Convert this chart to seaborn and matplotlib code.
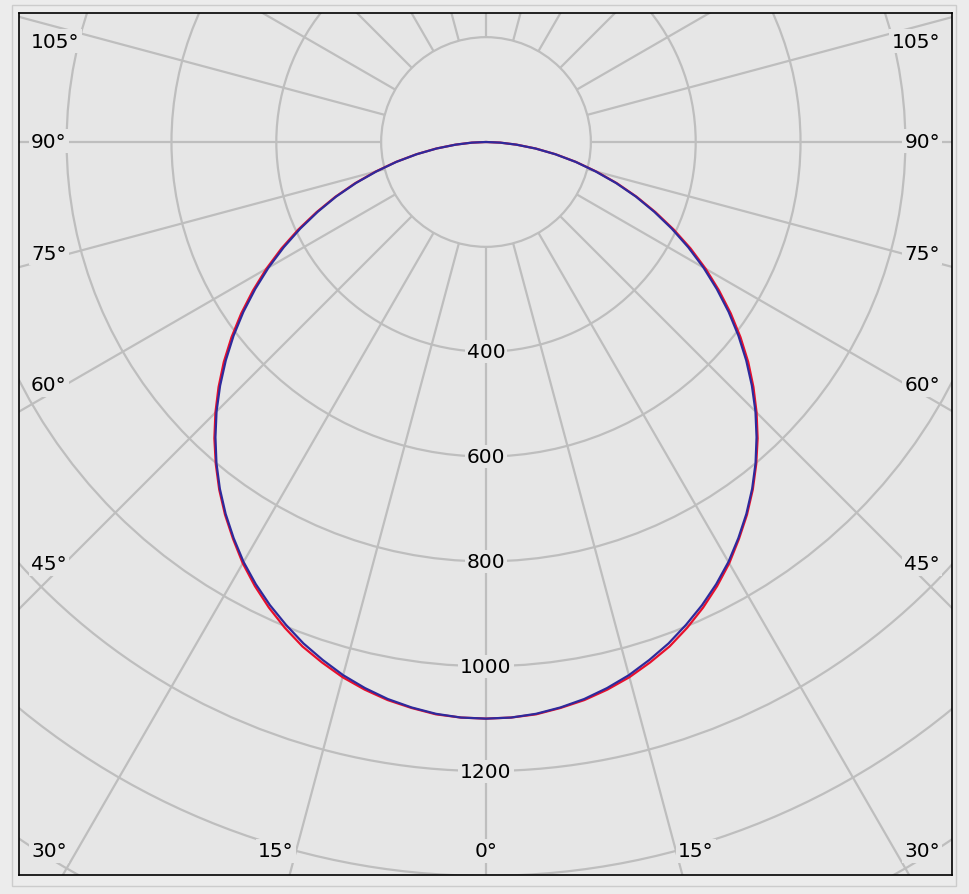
import numpy as np
import pandas as pd
import seaborn as sns
import matplotlib.pyplot as plt
from matplotlib.patches import Circle, Rectangle

# -------------------------------------------------------------------------
# Polar light distribution curve (cd), drawn on cartesian axes
# -------------------------------------------------------------------------

# gamma angles (deg from nadir) for one half of each C-plane
gamma = [0, 2.5, 5, 7.5, 10, 12.5, 15, 17.5, 20, 22.5, 25, 27.5, 30, 32.5, 35, 37.5,
         40, 42.5, 45, 47.5, 50, 52.5, 55, 57.5, 60, 62.5, 65, 67.5, 70, 72.5, 75,
         77.5, 80, 82.5, 85, 87.5, 90]
# C0/C180 plane (red) and C90/C270 plane (blue)
c0_cd = [1100, 1099, 1096, 1089, 1081, 1070, 1057, 1041, 1024, 1003, 980, 955, 928,
         898, 868, 836, 802, 767, 730, 692, 653, 612, 570, 527, 484, 440, 395, 350,
         306, 262, 218, 176, 135, 96, 59, 27, 0]
c90_cd = [1100, 1099, 1095, 1088, 1079, 1067, 1053, 1036, 1018, 997, 975, 951, 925,
          896, 866, 834, 800, 764, 727, 688, 648, 607, 565, 522, 479, 435, 391, 347,
          304, 260, 216, 175, 134, 95, 58, 27, 0]

# grid definition
ring_values = [200, 400, 600, 800, 1000, 1200, 1400, 1600, 1800]
ring_labels = [400, 600, 800, 1000, 1200]
spoke_step = 15

bg = '#e6e6e6'
grid_col = '#bebebe'

sns.set_theme(style='white')
plt.rcParams['font.family'] = ['DejaVu Sans']
plt.rcParams['text.color'] = 'black'

fig = plt.figure(figsize=(9.69, 8.95), dpi=100)
fig.patch.set_facecolor('#ececec')
# outer panel border
fig.patches.append(Rectangle((12 / 969, 1 - 887 / 895), 944 / 969, 881 / 895,
                             transform=fig.transFigure, fill=False,
                             ec='#cccccc', lw=1))

W, H = 969, 895
left, right, top, bottom = 19, 952, 14, 876
ax = fig.add_axes([left / W, 1 - bottom / H, (right - left) / W, (bottom - top) / H])
ax.set_facecolor(bg)

# pixel scale: centre at (486, 143), 0.5242 px per cd
cx, cy, s = 486, 143, 0.5242
ax.set_xlim((left - cx) / s, (right - cx) / s)
ax.set_ylim((cy - bottom) / s, (cy - top) / s)


def px(x, y):
    return (x - cx) / s, (cy - y) / s


# rings
for r in ring_values:
    ax.add_patch(Circle((0, 0), r, fill=False, ec=grid_col, lw=1.6, zorder=1))

# spokes (start at the innermost ring)
for a in range(0, 360, spoke_step):
    t = np.deg2rad(a)
    ax.plot([200 * np.sin(t), 3000 * np.sin(t)], [-200 * np.cos(t), -3000 * np.cos(t)],
            color=grid_col, lw=1.6, zorder=1, solid_capstyle='butt')

# intensity labels on the nadir axis
box = dict(fc=bg, ec='none', pad=1.5)
for v in ring_labels:
    ax.text(0, -v, str(v), ha='center', va='center', fontsize=14.5, color='black',
            zorder=3, bbox=box)

# angle labels
side_labels = {105: 42, 90: 142, 75: 254, 60: 386, 45: 565}
for lab, y in side_labels.items():
    x0, y0 = px(31, y)
    ax.text(x0, y0, f'{lab}°', ha='left', va='center', fontsize=14.5, color='black',
            zorder=3, bbox=box)
    x1, y1 = px(940, y)
    ax.text(x1, y1, f'{lab}°', ha='right', va='center', fontsize=14.5, color='black',
            zorder=3, bbox=box)

for lab, xl, ha in [(30, 31, 'left'), (15, 276, 'center'), (0, 486, 'center'),
                    (15, 696, 'center'), (30, 940, 'right')]:
    x0, y0 = px(xl, 852)
    ax.text(x0, y0, f'{lab}°', ha=ha, va='center', fontsize=14.5, color='black',
            zorder=3, bbox=box)


# curves: build full planes from -90 to 90
def plane(vals):
    g = np.array(gamma, dtype=float)
    v = np.array(vals, dtype=float)
    ang = np.concatenate([-g[::-1], g[1:]])
    cd = np.concatenate([v[::-1], v[1:]])
    t = np.deg2rad(ang)
    return pd.DataFrame({'x': cd * np.sin(t), 'y': -cd * np.cos(t)})


red = plane(c0_cd)
blue = plane(c90_cd)
sns.lineplot(data=red, x='x', y='y', sort=False, estimator=None, color='#e8102c',
             lw=1.6, ax=ax, zorder=4)
sns.lineplot(data=blue, x='x', y='y', sort=False, estimator=None, color='#2e2a9c',
             lw=1.6, ax=ax, zorder=5)

ax.set_xlabel('')
ax.set_ylabel('')
ax.set_xticks([])
ax.set_yticks([])
for sp in ax.spines.values():
    sp.set_visible(True)
    sp.set_color('black')
    sp.set_linewidth(1.2)

fig.savefig('out.png', dpi=100, facecolor=fig.get_facecolor())
